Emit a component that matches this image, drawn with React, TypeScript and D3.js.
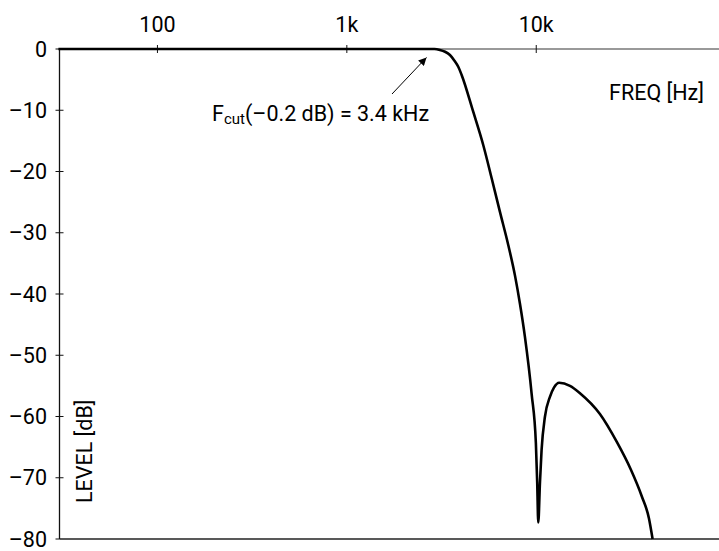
import React from "react";
import * as d3 from "d3";

const freqHz = [30, 500, 1500, 2500, 2900, 3100, 3300, 3502, 3700, 3875, 4038, 4648, 5250, 5816, 6433, 7116, 7724, 8204, 8716, 9455, 9958, 10120, 10250, 10460, 10670, 11120, 11810, 12400, 13220, 15070, 17020, 21690, 26680, 31620, 36150, 39350, 41150];
const levelDb = [0, 0, 0, 0, 0, -0.15, -0.45, -0.98, -1.9, -2.89, -4.24, -10.24, -15.67, -21.1, -26.6, -32.0, -37.0, -41.6, -47.0, -56.3, -64.4, -70.9, -77.3, -70.9, -65.5, -60.0, -56.8, -55.3, -54.5, -55.0, -56.2, -59.6, -64.2, -68.7, -73.1, -76.6, -80];
const yTicks = [0, -10, -20, -30, -40, -50, -60, -70, -80];
const xTicks = [100, 1000, 10000];
const xTickLabels = ["100", "1k", "10k"];

const W = 719;
const H = 551;
const FONT = "Roboto, 'Liberation Sans', sans-serif";

export default function App() {
  const x = d3.scaleLog().domain([30.4, 92250]).range([59.5, 719]);
  const y = d3.scaleLinear().domain([0, -80]).range([49, 539]);
  const pts: [number, number][] = freqHz.map((f, i) => [f, levelDb[i]]);
  const line = d3
    .line<[number, number]>()
    .x((d) => x(d[0]))
    .y((d) => y(d[1]))
    .curve(d3.curveMonotoneX);
  const x0 = x.range()[0];
  const x1 = x.range()[1];
  return (
    <svg
      width={W}
      height={H}
      style={{ position: "fixed", left: 0, top: 0, background: "#fff" }}
      fontFamily={FONT}
    >
      <defs>
        <marker id="arr" viewBox="0 0 10 10" refX="10" refY="5" markerWidth="9" markerHeight="8" markerUnits="userSpaceOnUse" orient="auto">
          <path d="M0,0 L10,5 L0,10 z" fill="#000" />
        </marker>
      </defs>
      <line x1={x0} x2={x1} y1={y(0)} y2={y(0)} stroke="#777" strokeWidth={1.5} />
      <line x1={x0} x2={x1} y1={y(-80)} y2={y(-80)} stroke="#222" strokeWidth={1.3} />
      <line x1={x0} x2={x0} y1={y(0)} y2={y(-80)} stroke="#111" strokeWidth={1.3} />
      {yTicks.map((t) => (
        <g key={t}>
          <line x1={x0 - 4} x2={t === 0 || t === -80 ? x0 : x0 + 4} y1={y(t)} y2={y(t)} stroke="#111" strokeWidth={1} />
          <text x={47} y={y(t)} dy="0.36em" textAnchor="end" fontSize={21.5} fill="#000">
            {t === 0 ? "0" : "\u2013" + Math.abs(t)}
          </text>
        </g>
      ))}
      {xTicks.map((t, i) => (
        <g key={t}>
          <line x1={x(t)} x2={x(t)} y1={y(0) - 4} y2={y(0) + 4} stroke="#111" strokeWidth={1} />
          <text x={x(t)} y={32} textAnchor="middle" fontSize={21.5} fill="#000">
            {xTickLabels[i]}
          </text>
        </g>
      ))}
      <path d={line(pts) || ""} fill="none" stroke="#000" strokeWidth={2.6} strokeLinejoin="round" />
      <line x1={392} y1={94} x2={426.5} y2={57.5} stroke="#000" strokeWidth={1} markerEnd="url(#arr)" />
      <text x={212} y={120.5} fontSize={21.5} fill="#000">
        F<tspan fontSize={15} dy={3}>cut</tspan>
        <tspan dy={-3}>{"(\u20130.2 dB) = 3.4 kHz"}</tspan>
      </text>
      <text x={704} y={100} textAnchor="end" fontSize={21.5} fill="#000">FREQ [Hz]</text>
      <text transform="translate(92,503) rotate(-90)" fontSize={21.5} fill="#000">LEVEL [dB]</text>
    </svg>
  );
}
